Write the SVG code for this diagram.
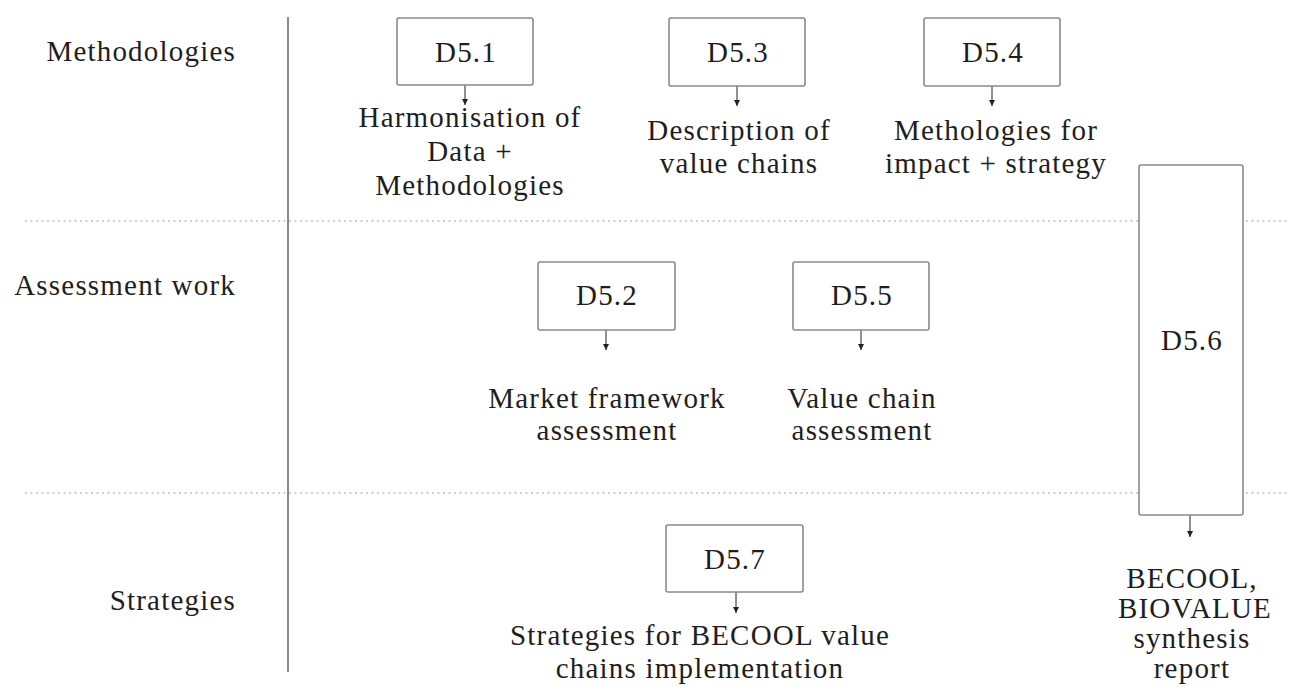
<svg xmlns="http://www.w3.org/2000/svg" width="1290" height="697" viewBox="0 0 1290 697">
  <style>
    text { font-family: "Liberation Serif", "Times New Roman", serif; font-size: 29px; fill: #1e1e1e; letter-spacing: 1.2px; }
    .lbl { text-anchor: end; }
    .mid { text-anchor: middle; }
    .box { fill: #fff; stroke: #8a8a8a; stroke-width: 1.6; }
    .sep { stroke: #bdbdbd; stroke-width: 1.5; stroke-dasharray: 2 3.5; fill: none; }
    .axis { stroke: #8a8a8a; stroke-width: 2; }
    .arr { stroke: #222; stroke-width: 1; fill: none; marker-end: url(#tip); }
  </style>
  <defs>
    <!-- small filled head, aligned with the line direction -->
    <marker id="tip" viewBox="0 0 6 6" refX="6" refY="3" markerWidth="6" markerHeight="6" markerUnits="userSpaceOnUse" orient="auto">
      <path d="M0,0 L6,3 L0,6 Z" fill="#222"/>
    </marker>
  </defs>
  <rect width="1290" height="697" fill="#fff"/>

  <!-- row separators and axis -->
  <g id="grid">
    <line class="sep" x1="25" y1="221" x2="1290" y2="221"/>
    <line class="sep" x1="25" y1="493" x2="1290" y2="493"/>
    <line class="axis" x1="288" y1="17" x2="288" y2="672"/>
  </g>

  <!-- row labels -->
  <g id="row-labels">
    <text class="lbl" x="236" y="61">Methodologies</text>
    <text class="lbl" x="236" y="295">Assessment work</text>
    <text class="lbl" x="236" y="610">Strategies</text>
  </g>

  <!-- connectors: box to description -->
  <g id="connectors">
    <line class="arr" x1="465" y1="85" x2="465" y2="105"/>
    <line class="arr" x1="737" y1="86" x2="737" y2="106"/>
    <line class="arr" x1="992" y1="86" x2="992" y2="106"/>
    <line class="arr" x1="606" y1="330" x2="606" y2="350"/>
    <line class="arr" x1="861" y1="330" x2="861" y2="350"/>
    <line class="arr" x1="736" y1="592" x2="736" y2="613"/>
    <line class="arr" x1="1190" y1="515" x2="1190" y2="537"/>
  </g>

  <g id="d51">
    <rect class="box" x="397" y="18" width="136" height="67" rx="2"/>
    <text class="mid" x="466" y="62">D5.1</text>
    <text class="mid" x="470" y="127">Harmonisation of</text>
    <text class="mid" x="470" y="161">Data +</text>
    <text class="mid" x="470" y="195">Methodologies</text>
  </g>

  <g id="d53">
    <rect class="box" x="669" y="18" width="136" height="68" rx="2"/>
    <text class="mid" x="738" y="62">D5.3</text>
    <text class="mid" x="739" y="140">Description of</text>
    <text class="mid" x="739" y="173">value chains</text>
  </g>

  <g id="d54">
    <rect class="box" x="924" y="18" width="136" height="68" rx="2"/>
    <text class="mid" x="993" y="62">D5.4</text>
    <text class="mid" x="996" y="140">Methologies for</text>
    <text class="mid" x="996" y="173">impact + strategy</text>
  </g>

  <g id="d52">
    <rect class="box" x="538" y="262" width="137" height="68" rx="2"/>
    <text class="mid" x="607" y="305">D5.2</text>
    <text class="mid" x="607" y="408">Market framework</text>
    <text class="mid" x="607" y="440">assessment</text>
  </g>

  <g id="d55">
    <rect class="box" x="793" y="262" width="136" height="68" rx="2"/>
    <text class="mid" x="862" y="305">D5.5</text>
    <text class="mid" x="862" y="408">Value chain</text>
    <text class="mid" x="862" y="440">assessment</text>
  </g>

  <g id="d56">
    <rect class="box" x="1139" y="165" width="104" height="350" rx="2"/>
    <text class="mid" x="1192" y="350">D5.6</text>
    <text class="mid" x="1192" y="588">BECOOL,</text>
    <text class="mid" x="1195" y="618">BIOVALUE</text>
    <text class="mid" x="1192" y="648">synthesis</text>
    <text class="mid" x="1192" y="678">report</text>
  </g>

  <g id="d57">
    <rect class="box" x="666" y="525" width="137" height="67" rx="2"/>
    <text class="mid" x="735" y="569">D5.7</text>
    <text class="mid" x="700" y="645">Strategies for BECOOL value</text>
    <text class="mid" x="700" y="678">chains implementation</text>
  </g>
</svg>
